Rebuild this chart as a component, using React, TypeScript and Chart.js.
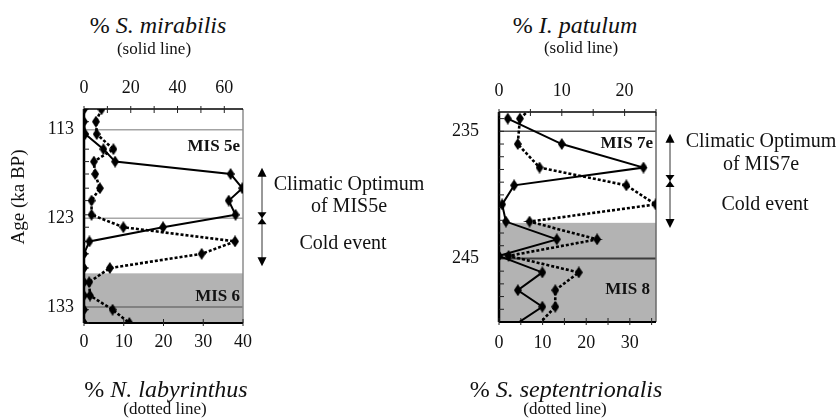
import React, { useEffect, useRef } from 'react';
import { Chart, registerables } from 'chart.js';
Chart.register(...registerables);

// ---------- Panel 1 : MIS 5e ----------
const ages1 = [110.7, 112.1, 113.5, 115.2, 116.6, 118.0, 119.6, 121.0, 122.6, 124.0, 125.6, 127.0, 128.6, 130.2, 131.7, 133.3, 134.8, 136.3];
const mirabilis = [0, 0, 0.5, 8.3, 13.3, 62.7, 67.7, 61.9, 64.8, 33.8, 2.3, 0, 0, 0, 0, 0, 0, null];
const labyrinthus = [4.4, 3.0, 3.2, 7.4, 2.5, 2.8, 4.0, 1.9, 1.9, 9.9, 38.0, 29.6, 6.5, 1.3, 1.5, 7.2, 11.4, 17.0];
const ageLabels1 = [113, 123, 133];
const topLabels1 = [0, 20, 40, 60];
const topMinor1 = [0, 10, 20, 30, 40, 50, 60];
const bottomLabels1 = [0, 10, 20, 30, 40];
const bottomMinor1 = [0, 10, 20, 30, 40];
const arrowAges1 = [117.3, 123.0, 128.4];

// ---------- Panel 2 : MIS 7e ----------
const ages2 = [232.5, 234.0, 236.0, 237.85, 239.25, 240.75, 242.1, 243.5, 244.8, 246.1, 247.5, 248.8, 250.4];
const patulum = [null, 1.4, 10.0, 23.0, 2.4, 0.5, 1.1, 9.2, 0, 6.9, 3.0, 6.9, 2.0];
const septentrionalis = [9.5, 4.8, 4.3, 9.3, 29.2, 35.9, 7.0, 22.5, 2.2, 18.3, 12.9, 12.9, 8.5];
const ageLabels2 = [235, 245];
const ageMinor2 = [234, 235, 236, 237, 238, 239, 240, 241, 242, 243, 244, 245, 246, 247, 248, 249];
const topLabels2 = [0, 10, 20];
const topMinor2 = [0, 5, 10, 15, 20, 25];
const bottomLabels2 = [0, 10, 20, 30];
const bottomMinor2 = [0, 5, 10, 15, 20, 25, 30, 35];
const arrowAges2 = [235.2, 238.9, 242.6];

const SERIF = "'Liberation Serif', 'Times New Roman', serif";
const INK = '#111';

function makeDiamond() {
  const c = document.createElement('canvas');
  c.width = 8;
  c.height = 12;
  const g = c.getContext('2d')!;
  g.fillStyle = '#000';
  g.beginPath();
  g.moveTo(4, 0);
  g.lineTo(8, 6);
  g.lineTo(4, 12);
  g.lineTo(0, 6);
  g.closePath();
  g.fill();
  return c;
}

type Cfg = {
  x: number; y: number; w: number; h: number;
  yW: number; padRight: number; topH: number; bottomH: number;
  yMin: number; yMax: number; yPad: number;
  topMax: number; bottomMax: number; topPad: number; bottomPad: number;
  ages: number[]; solid: (number | null)[]; dotted: (number | null)[];
  ageLabels: number[]; ageMinor: number[];
  topLabels: number[]; topMinor: number[];
  bottomLabels: number[]; bottomMinor: number[];
  shadeFrom: number;
  hlines: [number, string, number][];
  rightColor: string;
  arrowAges: number[]; arrowDx: number;
};

const cfg1: Cfg = {
  x: 0, y: 55, w: 440, h: 330,
  yW: 84, padRight: 197, topH: 54, bottomH: 62,
  yMin: 110.67, yMax: 134.8, yPad: 10,
  topMax: 68, bottomMax: 40, topPad: 10, bottomPad: 8,
  ages: ages1, solid: mirabilis, dotted: labyrinthus,
  ageLabels: ageLabels1, ageMinor: ages1,
  topLabels: topLabels1, topMinor: topMinor1,
  bottomLabels: bottomLabels1, bottomMinor: bottomMinor1,
  shadeFrom: 129.2,
  hlines: [[113, '#a3a3a3', 1.5], [123, '#a8a8a8', 1.5], [133, '#707070', 1.5]],
  rightColor: '#8c8c8c',
  arrowAges: arrowAges1, arrowDx: 19,
};

const cfg2: Cfg = {
  x: 440, y: 55, w: 399, h: 330,
  yW: 59, padRight: 183, topH: 57, bottomH: 63,
  yMin: 233.48, yMax: 250.0, yPad: 20,
  topMax: 25, bottomMax: 36, topPad: 9.5, bottomPad: 10.5,
  ages: ages2, solid: patulum, dotted: septentrionalis,
  ageLabels: ageLabels2, ageMinor: ageMinor2,
  topLabels: topLabels2, topMinor: topMinor2,
  bottomLabels: bottomLabels2, bottomMinor: bottomMinor2,
  shadeFrom: 242.2,
  hlines: [[235, '#555555', 1.5], [245, '#3c3c3c', 2]],
  rightColor: '#6a6a6a',
  arrowAges: arrowAges2, arrowDx: 14,
};

function decor(cfg: Cfg) {
  return {
    id: 'decor',
    beforeDatasetsDraw(chart: any) {
      const { ctx, chartArea: a, scales } = chart;
      const ys = scales.y;
      ctx.save();
      const yShade = ys.getPixelForValue(cfg.shadeFrom);
      ctx.fillStyle = '#b3b3b3';
      ctx.fillRect(a.left, yShade, a.right - a.left, a.bottom - yShade);
      cfg.hlines.forEach(([v, col, lw]) => {
        const yy = ys.getPixelForValue(v);
        ctx.strokeStyle = col;
        ctx.lineWidth = lw;
        ctx.beginPath();
        ctx.moveTo(a.left, yy);
        ctx.lineTo(a.right, yy);
        ctx.stroke();
      });
      ctx.strokeStyle = cfg.rightColor;
      ctx.lineWidth = 1.5;
      ctx.beginPath();
      ctx.moveTo(a.right, a.top);
      ctx.lineTo(a.right, a.bottom);
      ctx.stroke();
      ctx.strokeStyle = '#000';
      ctx.lineWidth = 1.5;
      ctx.beginPath();
      ctx.moveTo(a.left, a.top);
      ctx.lineTo(a.right, a.top);
      ctx.stroke();
      ctx.lineWidth = 2;
      ctx.beginPath();
      ctx.moveTo(a.left, a.bottom);
      ctx.lineTo(a.right, a.bottom);
      ctx.stroke();
      ctx.lineWidth = 2.5;
      ctx.beginPath();
      ctx.moveTo(a.left, a.top);
      ctx.lineTo(a.left, a.bottom);
      ctx.stroke();
      ctx.lineWidth = 1;
      ctx.strokeStyle = '#222';
      cfg.ageMinor.forEach((v) => {
        const yy = ys.getPixelForValue(v);
        if (yy < a.top || yy > a.bottom) return;
        ctx.beginPath();
        ctx.moveTo(a.left, yy);
        ctx.lineTo(a.left + 5, yy);
        ctx.stroke();
      });
      cfg.topMinor.forEach((v) => {
        const xx = scales.xTop.getPixelForValue(v);
        ctx.beginPath();
        ctx.moveTo(xx, a.top - 3);
        ctx.lineTo(xx, a.top + 4);
        ctx.stroke();
      });
      cfg.bottomMinor.forEach((v) => {
        const xx = scales.xBottom.getPixelForValue(v);
        ctx.beginPath();
        ctx.moveTo(xx, a.bottom - 4);
        ctx.lineTo(xx, a.bottom + 3);
        ctx.stroke();
      });
      const ax = a.right + cfg.arrowDx;
      const [t, m, b] = cfg.arrowAges.map((v) => ys.getPixelForValue(v));
      ctx.strokeStyle = '#333';
      ctx.lineWidth = 1;
      ctx.beginPath();
      ctx.moveTo(ax, t + 4);
      ctx.lineTo(ax, b - 4);
      ctx.stroke();
      ctx.fillStyle = '#000';
      const tri = (tipY: number, baseY: number, hw: number) => {
        ctx.beginPath();
        ctx.moveTo(ax, tipY);
        ctx.lineTo(ax + hw, baseY);
        ctx.lineTo(ax - hw, baseY);
        ctx.closePath();
        ctx.fill();
      };
      tri(t, t + 9, 4.5);
      tri(b, b - 9, 4.5);
      tri(m, m - 6, 4.5);
      tri(m, m + 6, 4.5);
      ctx.restore();
    },
  };
}

function Panel({ cfg }: { cfg: Cfg }) {
  const ref = useRef<HTMLCanvasElement>(null);
  useEffect(() => {
    const diamond = makeDiamond();
    const pts = (vals: (number | null)[]) =>
      cfg.ages
        .map((a, i) => (vals[i] == null ? null : { x: vals[i] as number, y: a }))
        .filter((p) => p !== null);
    const font = { family: SERIF, size: 18 };
    const chart = new Chart(ref.current!, {
      type: 'scatter',
      data: {
        datasets: [
          {
            data: pts(cfg.solid) as any,
            xAxisID: 'xTop',
            showLine: true,
            borderColor: '#000',
            backgroundColor: '#000',
            borderWidth: 2,
            pointStyle: diamond as any,
            pointRadius: 5,
          },
          {
            data: pts(cfg.dotted) as any,
            xAxisID: 'xBottom',
            showLine: true,
            borderColor: '#000',
            backgroundColor: '#000',
            borderWidth: 2.6,
            borderDash: [3, 2],
            pointStyle: diamond as any,
            pointRadius: 5,
          },
        ],
      },
      options: {
        animation: false,
        responsive: false,
        maintainAspectRatio: false,
        layout: { padding: { left: 0, top: 0, bottom: 0, right: cfg.padRight } },
        plugins: { legend: { display: false }, tooltip: { enabled: false } },
        scales: {
          y: {
            type: 'linear',
            position: 'left',
            reverse: true,
            min: cfg.yMin,
            max: cfg.yMax,
            afterFit: (s: any) => { s.width = cfg.yW; },
            afterBuildTicks: (s: any) => { s.ticks = cfg.ageLabels.map((v) => ({ value: v })); },
            grid: { display: false, drawTicks: false },
            border: { display: false },
            ticks: { padding: cfg.yPad, font, color: INK, autoSkip: false },
          },
          xTop: {
            type: 'linear',
            position: 'top',
            min: 0,
            max: cfg.topMax,
            afterFit: (s: any) => { s.height = cfg.topH; },
            afterBuildTicks: (s: any) => { s.ticks = cfg.topLabels.map((v) => ({ value: v })); },
            grid: { display: false, drawTicks: false },
            border: { display: false },
            ticks: { padding: cfg.topPad, font, color: INK, maxRotation: 0, autoSkip: false },
          },
          xBottom: {
            type: 'linear',
            position: 'bottom',
            min: 0,
            max: cfg.bottomMax,
            afterFit: (s: any) => { s.height = cfg.bottomH; },
            afterBuildTicks: (s: any) => { s.ticks = cfg.bottomLabels.map((v) => ({ value: v })); },
            grid: { display: false, drawTicks: false },
            border: { display: false },
            ticks: { padding: cfg.bottomPad, font, color: INK, maxRotation: 0, autoSkip: false },
          },
        } as any,
      },
      plugins: [decor(cfg)],
    });
    return () => chart.destroy();
  }, []);
  return (
    <canvas
      ref={ref}
      width={cfg.w}
      height={cfg.h}
      style={{ position: 'absolute', left: cfg.x, top: cfg.y, width: cfg.w, height: cfg.h }}
    />
  );
}

function Txt({ x, y, size, children, bold, anchor = 'center' }: any) {
  const tx = anchor === 'right' ? '-100%' : '-50%';
  return (
    <div
      style={{
        position: 'absolute',
        left: x,
        top: y,
        transform: `translate(${tx}, -50%)`,
        fontSize: size,
        fontWeight: bold ? 'bold' : 'normal',
        whiteSpace: 'nowrap',
        lineHeight: 1,
        color: INK,
      }}
    >
      {children}
    </div>
  );
}

export default function App() {
  return (
    <div
      style={{
        position: 'absolute',
        left: 0,
        top: 0,
        width: 839,
        height: 419,
        background: '#fff',
        fontFamily: SERIF,
        overflow: 'hidden',
      }}
    >
      <Panel cfg={cfg1} />
      <Panel cfg={cfg2} />

      <Txt x={158} y={25} size={24}>% <i>S. mirabilis</i></Txt>
      <Txt x={154} y={48} size={17}>(solid line)</Txt>
      <Txt x={166} y={389} size={24}>% <i>N. labyrinthus</i></Txt>
      <Txt x={165} y={408} size={17}>(dotted line)</Txt>

      <Txt x={575} y={25} size={24}>% <i>I. patulum</i></Txt>
      <Txt x={581} y={47} size={17}>(solid line)</Txt>
      <Txt x={566} y={389} size={24}>% <i>S. septentrionalis</i></Txt>
      <Txt x={565} y={408} size={17}>(dotted line)</Txt>

      <div
        style={{
          position: 'absolute',
          left: -42,
          top: 186,
          width: 120,
          height: 22,
          lineHeight: '22px',
          textAlign: 'center',
          fontSize: 19,
          color: INK,
          whiteSpace: 'nowrap',
          transform: 'rotate(-90deg)',
        }}
      >
        Age (ka BP)
      </div>

      <Txt x={349} y={183} size={20}>Climatic Optimum</Txt>
      <Txt x={349} y={205} size={20}>of MIS5e</Txt>
      <Txt x={343} y={242} size={20}>Cold event</Txt>

      <Txt x={761} y={140} size={20}>Climatic Optimum</Txt>
      <Txt x={761} y={163} size={20}>of MIS7e</Txt>
      <Txt x={765} y={203} size={20}>Cold event</Txt>

      <Txt x={240} y={145} size={17} bold anchor="right">MIS 5e</Txt>
      <Txt x={240} y={295} size={17} bold anchor="right">MIS 6</Txt>
      <Txt x={653} y={142} size={17} bold anchor="right">MIS 7e</Txt>
      <Txt x={650} y={288} size={17} bold anchor="right">MIS 8</Txt>
    </div>
  );
}
